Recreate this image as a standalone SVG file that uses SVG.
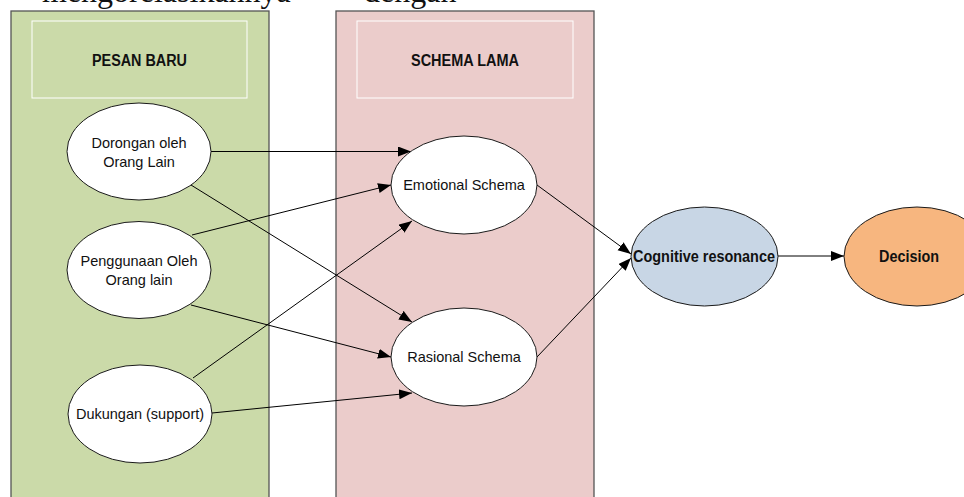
<svg xmlns="http://www.w3.org/2000/svg" width="964" height="497" viewBox="0 0 964 497">
  <defs>
    <marker id="arrow" markerUnits="userSpaceOnUse" markerWidth="14" markerHeight="11" refX="13" refY="5" orient="auto">
      <path d="M0,0 L13,5 L0,10 z" fill="#000"/>
    </marker>
    <style>
      .panel { stroke: #555555; stroke-width: 1.3; }
      .title-box { fill: none; stroke: #ffffff; stroke-width: 1; }
      .node { fill: #ffffff; stroke: #1a1a1a; stroke-width: 1; }
      .lbl { font-family: "Liberation Sans", Arial, sans-serif; font-size: 14.5px; fill: #111; text-anchor: middle; }
      .bold { font-family: "Liberation Sans", Arial, sans-serif; font-size: 16px; font-weight: bold; fill: #111; text-anchor: middle; }
      .edge { stroke: #000; stroke-width: 1; fill: none; marker-end: url(#arrow); }
      .body { font-family: "Liberation Serif", "Times New Roman", serif; font-size: 32px; fill: #111; }
    </style>
  </defs>

  <rect width="964" height="497" fill="#ffffff"/>

  <!-- running text line above the figure -->
  <text class="body" x="42" y="2">mengorelasikannya</text>
  <text class="body" x="364" y="2">dengan</text>

  <!-- left column: new message -->
  <g id="panel-pesan-baru">
    <rect class="panel" x="11" y="11" width="258" height="500" fill="#cbdaa9"/>
    <rect class="title-box" x="32" y="21" width="215" height="77"/>
    <text class="bold" x="139.5" y="65.5" textLength="95" lengthAdjust="spacingAndGlyphs">PESAN BARU</text>
  </g>

  <!-- middle column: old schema -->
  <g id="panel-schema-lama">
    <rect class="panel" x="336" y="11" width="258" height="500" fill="#ebcccb"/>
    <rect class="title-box" x="357" y="21" width="216" height="77"/>
    <text class="bold" x="465" y="65.5" textLength="108" lengthAdjust="spacingAndGlyphs">SCHEMA LAMA</text>
  </g>

  <!-- connectors -->
  <g id="connectors">
    <line class="edge" x1="211" y1="151.5" x2="411" y2="151.5"/>
    <line class="edge" x1="192" y1="235" x2="391" y2="185"/>
    <line class="edge" x1="193" y1="378" x2="412" y2="221"/>
    <line class="edge" x1="191" y1="185" x2="412" y2="322"/>
    <line class="edge" x1="191" y1="305" x2="391" y2="357"/>
    <line class="edge" x1="212" y1="413" x2="412" y2="393"/>
    <line class="edge" x1="537" y1="185" x2="631" y2="254"/>
    <line class="edge" x1="537" y1="357" x2="631" y2="258"/>
    <line class="edge" x1="778" y1="256" x2="844" y2="256"/>
  </g>

  <g id="node-dorongan">
    <ellipse class="node" cx="139" cy="151.5" rx="72" ry="48.5"/>
    <text class="lbl" x="139" y="147.5">Dorongan oleh</text>
    <text class="lbl" x="139" y="167">Orang Lain</text>
  </g>

  <g id="node-penggunaan">
    <ellipse class="node" cx="139" cy="270" rx="72" ry="48.5"/>
    <text class="lbl" x="139" y="265.5">Penggunaan Oleh</text>
    <text class="lbl" x="139" y="285">Orang lain</text>
  </g>

  <g id="node-dukungan">
    <ellipse class="node" cx="140" cy="414" rx="72" ry="49"/>
    <text class="lbl" x="140" y="419">Dukungan (support)</text>
  </g>

  <g id="node-emotional">
    <ellipse class="node" cx="464" cy="185" rx="73" ry="49"/>
    <text class="lbl" x="464" y="190">Emotional Schema</text>
  </g>

  <g id="node-rasional">
    <ellipse class="node" cx="464" cy="357" rx="73" ry="49"/>
    <text class="lbl" x="464" y="362">Rasional Schema</text>
  </g>

  <g id="node-cognitive">
    <ellipse class="node" cx="704.5" cy="256.5" rx="73.5" ry="49.5" style="fill:#c8d6e5"/>
    <text class="bold" x="704" y="262" textLength="142" lengthAdjust="spacingAndGlyphs">Cognitive resonance</text>
  </g>

  <g id="node-decision">
    <ellipse class="node" cx="917" cy="256.5" rx="73" ry="49.5" style="fill:#f7b67f"/>
    <text class="bold" x="909" y="262" textLength="60" lengthAdjust="spacingAndGlyphs">Decision</text>
  </g>
</svg>
